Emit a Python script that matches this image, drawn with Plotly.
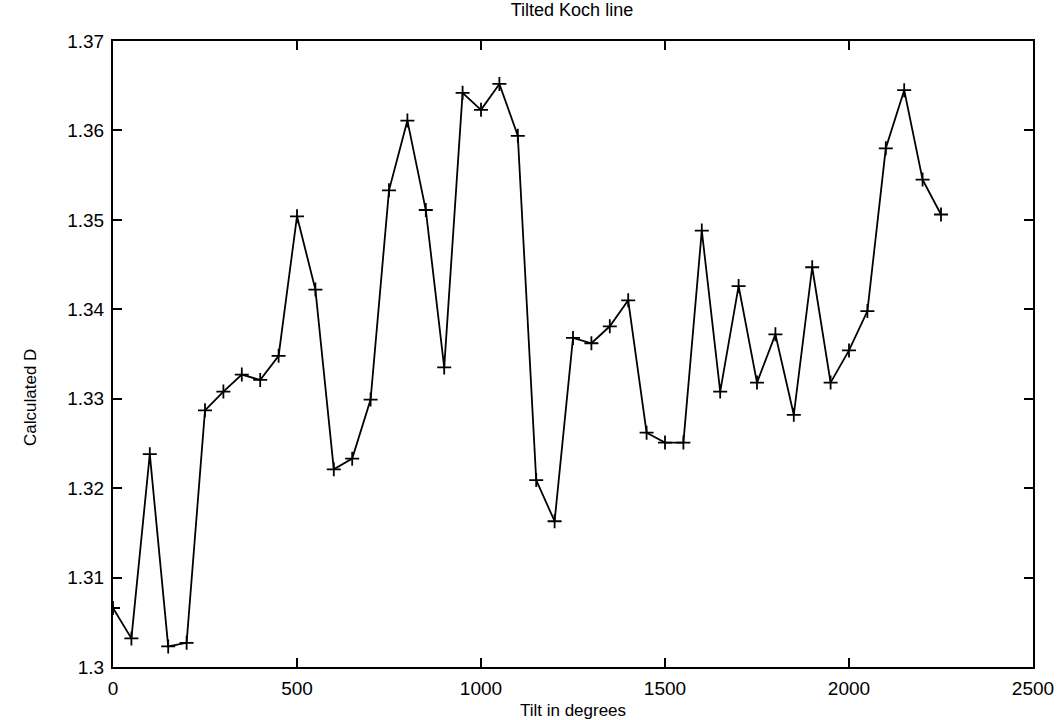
import plotly.graph_objects as go

# Tilt angle (degrees) and calculated fractal dimension D
tilt = [0, 50, 100, 150, 200, 250, 300, 350, 400, 450,
        500, 550, 600, 650, 700, 750, 800, 850, 900, 950,
        1000, 1050, 1100, 1150, 1200, 1250, 1300, 1350, 1400, 1450,
        1500, 1550, 1600, 1650, 1700, 1750, 1800, 1850, 1900, 1950,
        2000, 2050, 2100, 2150, 2200, 2250]
calc_d = [1.3066, 1.3032, 1.3238, 1.3023, 1.3027, 1.3287, 1.3308, 1.3327, 1.3321, 1.3348,
          1.3504, 1.3422, 1.3221, 1.3233, 1.3299, 1.3533, 1.3611, 1.3511, 1.3335, 1.3642,
          1.3623, 1.3652, 1.3594, 1.3209, 1.3163, 1.3368, 1.3362, 1.3381, 1.3410, 1.3262,
          1.3251, 1.3251, 1.3488, 1.3308, 1.3426, 1.3318, 1.3372, 1.3282, 1.3447, 1.3318,
          1.3354, 1.3398, 1.3580, 1.3645, 1.3545, 1.3506]

x_ticks = [0, 500, 1000, 1500, 2000, 2500]
y_ticks = [1.30, 1.31, 1.32, 1.33, 1.34, 1.35, 1.36, 1.37]
y_tick_text = ["1.3", "1.31", "1.32", "1.33", "1.34", "1.35", "1.36", "1.37"]

font_family = "Liberation Sans, Arial, sans-serif"

fig = go.Figure(
    go.Scatter(
        x=tilt, y=calc_d,
        mode="lines+markers",
        line=dict(color="black", width=1.8),
        marker=dict(symbol="cross-thin", size=10, color="black",
                    line=dict(color="black", width=1.8)),
        showlegend=False,
    )
)

axis_common = dict(
    showgrid=False, zeroline=False, automargin=False,
    showline=True, linecolor="black", linewidth=2, mirror="allticks",
    ticks="inside", ticklen=9, tickwidth=2, tickcolor="black",
    tickfont=dict(family=font_family, size=19, color="black"),
)

fig.update_layout(
    width=1058, height=720,
    margin=dict(l=113, r=25, t=41, b=53),
    paper_bgcolor="white", plot_bgcolor="white",
    font=dict(family=font_family, color="black"),
    title=dict(text="Tilted Koch line", x=0.5406, xanchor="center",
               y=0.995, yanchor="top",
               font=dict(family=font_family, size=18, color="black")),
    xaxis=dict(range=[0, 2500], tickvals=x_ticks, ticklabelstandoff=3,
               title=dict(text="Tilt in degrees", standoff=6,
                          font=dict(family=font_family, size=17)),
               **axis_common),
    yaxis=dict(range=[1.30, 1.37], tickvals=y_ticks, ticktext=y_tick_text,
               ticklabelstandoff=3, **axis_common),
)

# Vertical axis label, placed a little below the middle of the frame
fig.add_annotation(
    text="Calculated D", textangle=-90, showarrow=False,
    xref="paper", yref="paper", x=-0.089, y=0.43,
    xanchor="center", yanchor="middle",
    font=dict(family=font_family, size=17, color="black"),
)

fig.write_html("out.html")
